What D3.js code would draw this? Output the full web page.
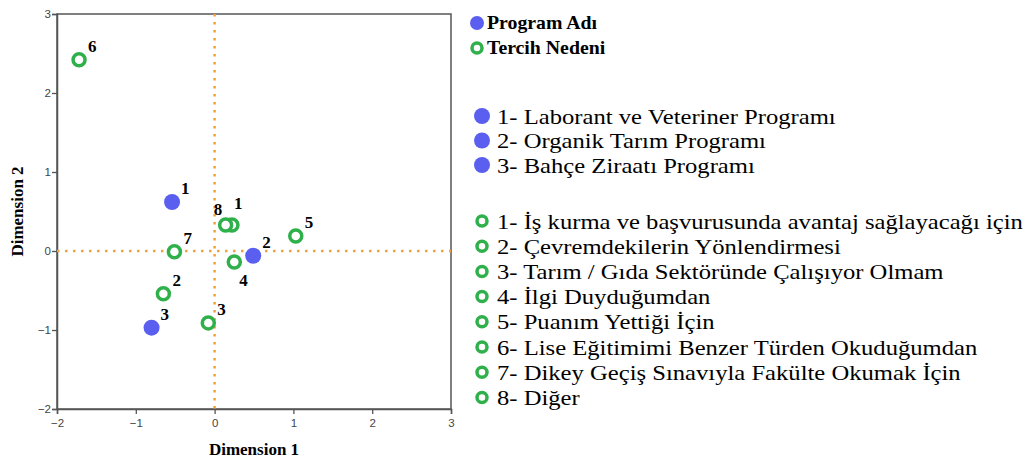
<!DOCTYPE html>
<html lang="tr">
<head>
<meta charset="UTF-8">
<script src="https://cdnjs.cloudflare.com/ajax/libs/d3/7.8.5/d3.min.js"></script>
<title>Dimension plot</title>
<style>
  body { margin: 0; background: #fff; }
  svg { display: block; }
</style>
</head>
<body>
<div id="chart"></div>
<script>
    // program points (blue, filled)
    var programLabels = ["1", "2", "3"];
    var programX = [-0.54, 0.49, -0.80];
    var programY = [0.62, -0.06, -0.97];
    var programNames = [
        "1- Laborant ve Veteriner Programı",
        "2- Organik Tarım Programı",
        "3- Bahçe Ziraatı Programı"
    ];

    // tercih nedeni points (green, rings)
    var reasonLabels = ["1", "2", "3", "4", "5", "6", "7", "8"];
    var reasonX = [0.22, -0.65, -0.08, 0.25, 1.03, -1.72, -0.51, 0.14];
    var reasonY = [0.33, -0.54, -0.91, -0.14, 0.19, 2.42, -0.01, 0.33];
    var reasonNames = [
        "1- İş kurma ve başvurusunda avantaj sağlayacağı için",
        "2- Çevremdekilerin Yönlendirmesi",
        "3- Tarım / Gıda Sektöründe Çalışıyor Olmam",
        "4- İlgi Duyduğumdan",
        "5- Puanım Yettiği İçin",
        "6- Lise Eğitimimi Benzer Türden Okuduğumdan",
        "7- Dikey Geçiş Sınavıyla Fakülte Okumak İçin",
        "8- Diğer"
    ];

    var xTicks = [-2, -1, 0, 1, 2, 3];
    var yTicks = [-2, -1, 0, 1, 2, 3];

    var blue = "#5a5ff0", green = "#2fb04a", orange = "#f2a33a";
    var serif = "Liberation Serif, Times New Roman, serif";

    var svg = d3.select("#chart").append("svg")
        .attr("width", 1030).attr("height", 460);

    var x = d3.scaleLinear().domain([-2, 3]).range([57, 451]);
    var y = d3.scaleLinear().domain([-2, 3]).range([409, 14]);

    // frame
    svg.append("rect")
        .attr("x", x(-2)).attr("y", y(3))
        .attr("width", x(3) - x(-2)).attr("height", y(-2) - y(3))
        .attr("fill", "none").attr("stroke", "#555").attr("stroke-width", 1.5);

    var xAxis = svg.append("g").attr("transform", "translate(0," + y(-2) + ")")
        .call(d3.axisBottom(x).tickValues(xTicks).tickSize(5).tickFormat(d3.format("d")));
    var yAxis = svg.append("g").attr("transform", "translate(" + x(-2) + ",0)")
        .call(d3.axisLeft(y).tickValues(yTicks).tickSize(5).tickPadding(1).tickFormat(d3.format("d")));
    [xAxis, yAxis].forEach(function(a) {
        a.select(".domain").attr("stroke", "#555").attr("stroke-width", 1.5);
        a.selectAll(".tick line").attr("stroke", "#555").attr("stroke-width", 1.3);
        a.selectAll("text").attr("fill", "#444")
            .style("font-family", "Liberation Sans, Arial, sans-serif").style("font-size", "11.5px");
    });
    xAxis.selectAll("text").attr("dy", "0.85em");

    // reference lines
    svg.append("line")
        .attr("x1", x(0)).attr("x2", x(0)).attr("y1", y(3)).attr("y2", y(-2))
        .attr("stroke", orange).attr("stroke-width", 2.5)
        .attr("stroke-dasharray", "2.5,5.5");
    svg.append("line")
        .attr("x1", x(-2)).attr("x2", x(3)).attr("y1", y(0)).attr("y2", y(0))
        .attr("stroke", orange).attr("stroke-width", 2.5)
        .attr("stroke-dasharray", "2.5,5.5");

    // axis titles
    svg.append("text")
        .attr("x", (x(-2) + x(3)) / 2).attr("y", 455)
        .attr("text-anchor", "middle")
        .style("font-family", serif)
        .style("font-weight", "bold").style("font-size", "17px")
        .text("Dimension 1");
    svg.append("text")
        .attr("transform", "translate(23," + y(0.5) + ") rotate(-90)")
        .attr("text-anchor", "middle")
        .style("font-family", serif)
        .style("font-weight", "bold").style("font-size", "17px")
        .text("Dimension 2");

    // reason points
    var reasons = reasonLabels.map(function(l, i) {
        return { label: l, x: reasonX[i], y: reasonY[i] };
    });
    svg.selectAll(".reason").data(reasons).enter().append("circle")
        .attr("class", "reason")
        .attr("cx", function(d) { return x(d.x); })
        .attr("cy", function(d) { return y(d.y); })
        .attr("r", 6)
        .attr("fill", "#fff").attr("stroke", green).attr("stroke-width", 3.5);

    // program points
    var programs = programLabels.map(function(l, i) {
        return { label: l, x: programX[i], y: programY[i] };
    });
    svg.selectAll(".program").data(programs).enter().append("circle")
        .attr("class", "program")
        .attr("cx", function(d) { return x(d.x); })
        .attr("cy", function(d) { return y(d.y); })
        .attr("r", 8)
        .attr("fill", blue);

    // point labels: offsets per point
    function offset(d, kind) {
        if (kind == "reason" && d.label == "4") return [5, 24];
        if (kind == "reason" && d.label == "8") return [-12, -10];
        if (kind == "reason" && d.label == "1") return [2, -16];
        return [9, -8];
    }
    svg.selectAll(".rlab").data(reasons).enter().append("text")
        .attr("x", function(d) { return x(d.x) + offset(d, "reason")[0]; })
        .attr("y", function(d) { return y(d.y) + offset(d, "reason")[1]; })
        .style("font-family", serif).style("font-weight", "bold").style("font-size", "17px")
        .text(function(d) { return d.label; });
    svg.selectAll(".plab").data(programs).enter().append("text")
        .attr("x", function(d) { return x(d.x) + offset(d, "program")[0]; })
        .attr("y", function(d) { return y(d.y) + offset(d, "program")[1]; })
        .style("font-family", serif).style("font-weight", "bold").style("font-size", "17px")
        .text(function(d) { return d.label; });

    // legend
    var lg = svg.append("g");
    lg.append("circle").attr("cx", 477).attr("cy", 23).attr("r", 7).attr("fill", blue);
    lg.append("text").attr("transform", "translate(487,29) scale(1.1,1)")
        .style("font-family", serif).style("font-weight", "bold").style("font-size", "18px")
        .text("Program Adı");
    lg.append("circle").attr("cx", 477).attr("cy", 48).attr("r", 5).attr("fill", "#fff")
        .attr("stroke", green).attr("stroke-width", 3.5);
    lg.append("text").attr("transform", "translate(487,54) scale(1.1,1)")
        .style("font-family", serif).style("font-weight", "bold").style("font-size", "18px")
        .text("Tercih Nedeni");

    var pItems = lg.selectAll(".pitem").data(programNames).enter().append("g")
        .attr("transform", function(d, i) { return "translate(0," + (116 + i * 24.5) + ")"; });
    pItems.append("circle").attr("cx", 482).attr("cy", 0).attr("r", 8).attr("fill", blue);
    pItems.append("text").attr("transform", "translate(497,7.5) scale(1.12,1)")
        .style("font-family", serif).style("font-size", "22px")
        .text(function(d) { return d; });

    var rItems = lg.selectAll(".ritem").data(reasonNames).enter().append("g")
        .attr("transform", function(d, i) { return "translate(0," + (221 + i * 25.2) + ")"; });
    rItems.append("circle").attr("cx", 482).attr("cy", 0).attr("r", 5).attr("fill", "#fff")
        .attr("stroke", green).attr("stroke-width", 3.5);
    rItems.append("text").attr("transform", "translate(497,7.5) scale(1.12,1)")
        .style("font-family", serif).style("font-size", "22px")
        .text(function(d) { return d; });
</script>
</body>
</html>
